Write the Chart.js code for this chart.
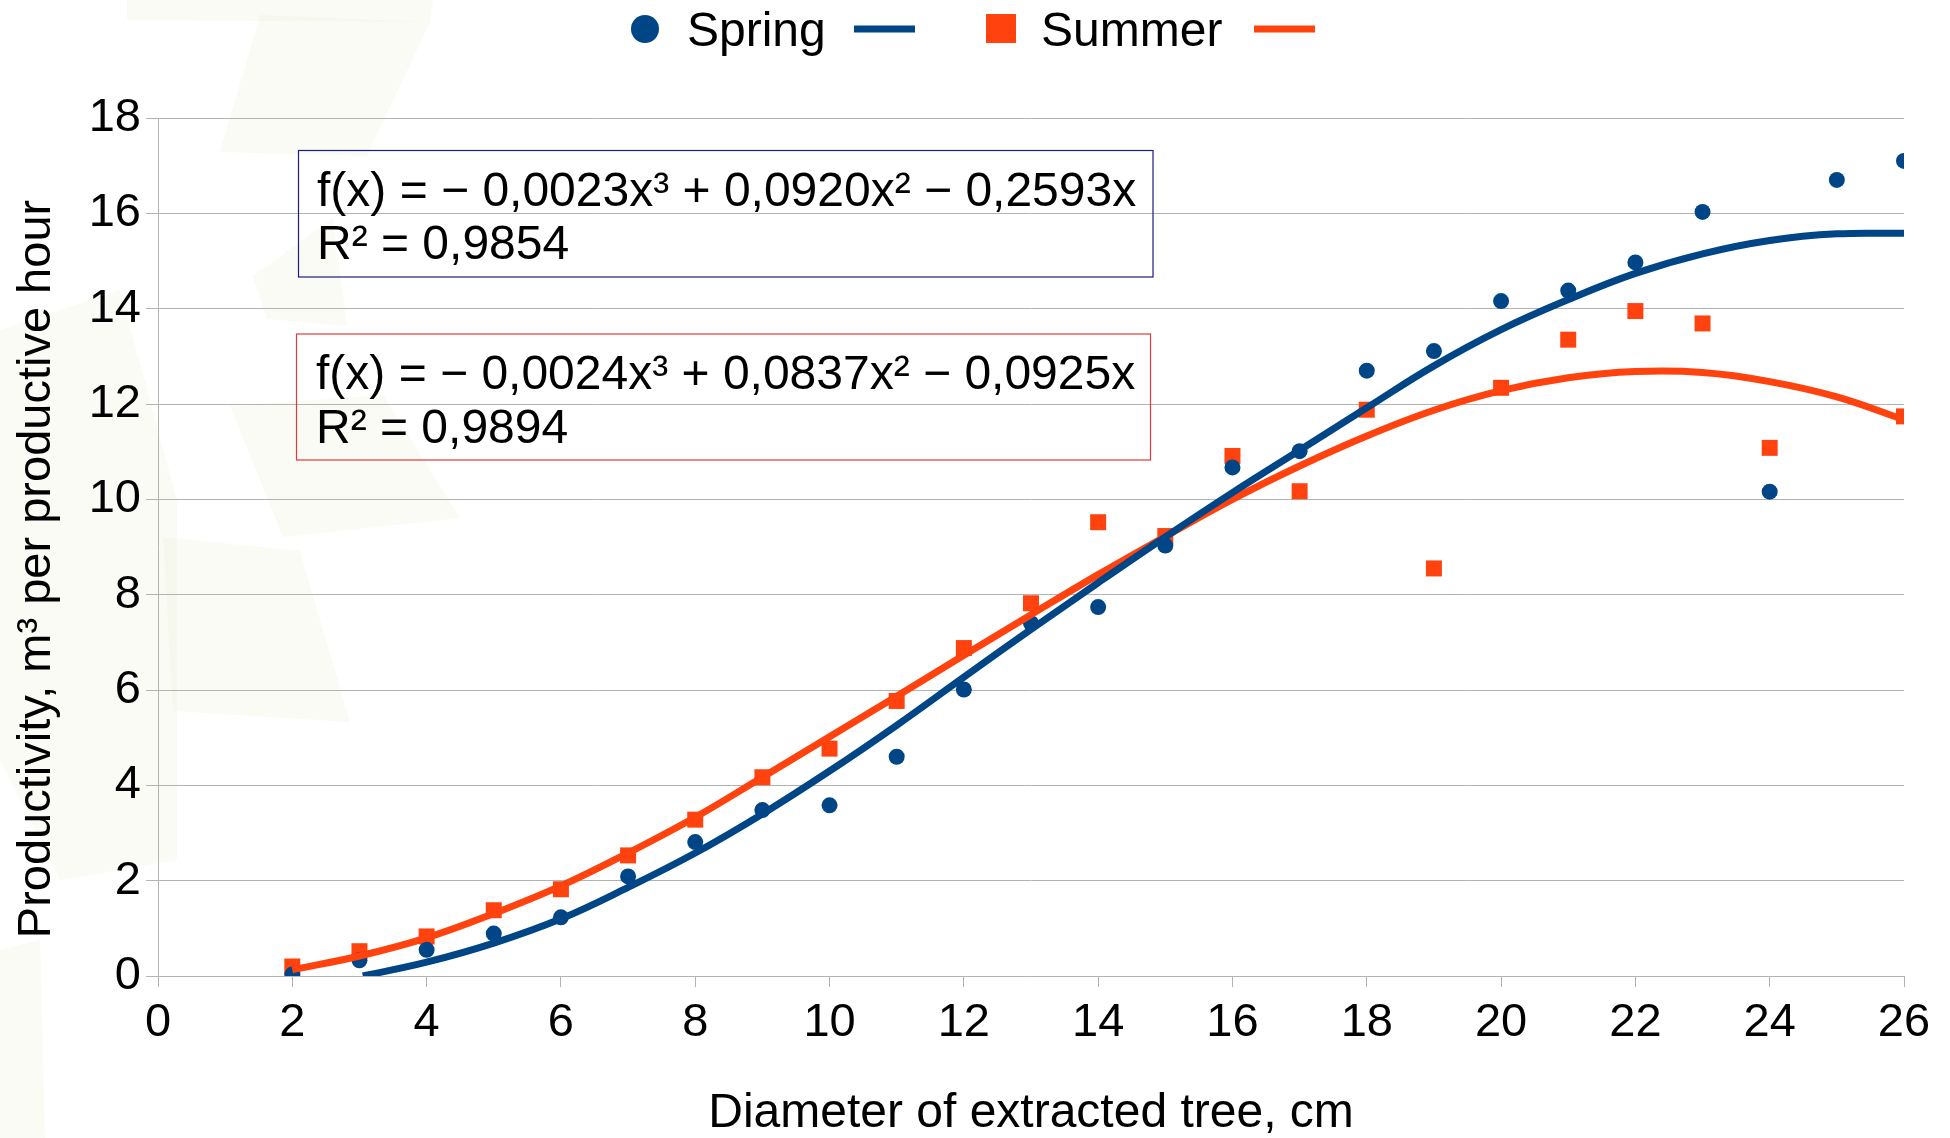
<!DOCTYPE html>
<html>
<head>
<meta charset="utf-8">
<title>Productivity vs diameter</title>
<script src="https://cdn.jsdelivr.net/npm/chart.js@4.4.1/dist/chart.umd.min.js"></script>
<style>
    html, body { margin: 0; padding: 0; background: #ffffff; }
    #wrap { position: relative; width: 1950px; height: 1138px; }
</style>
</head>
<body>
<div id="wrap">
    <canvas id="prodChart" width="1950" height="1138"></canvas>
</div>
<script>
// ============================================
// DATA
// ============================================
const diameters = [2, 3, 4, 5, 6, 7, 8, 9, 10, 11, 12, 13, 14, 15, 16, 17, 18, 19, 20, 21, 22, 23, 24, 25, 26];
const springValues = [0.03, 0.33, 0.55, 0.89, 1.23, 2.09, 2.81, 3.48, 3.58, 4.60, 6.01, 7.40, 7.74, 9.03,
                      10.67, 11.01, 12.70, 13.11, 14.16, 14.38, 14.97, 16.03, 10.16, 16.70, 17.10];
const summerValues = [0.20, 0.52, 0.83, 1.38, 1.82, 2.53, 3.28, 4.17, 4.77, 5.77, 6.88, 7.82, 9.52, 9.23,
                      10.91, 10.17, 11.88, 8.55, 12.34, 13.35, 13.95, 13.69, 11.08, null, 11.74];

// trend curves as traced on the picture
const springTrendX = [3.05, 4, 5, 6, 7, 8, 9, 10, 11, 12, 13, 14, 15, 16, 17, 18, 19, 20, 21, 22, 23, 24, 25, 26];
const springTrendY = [0, 0.29, 0.69, 1.20, 1.86, 2.58, 3.40, 4.30, 5.26, 6.27, 7.27, 8.25, 9.21, 10.14,
                      11.03, 11.92, 12.80, 13.56, 14.19, 14.74, 15.15, 15.43, 15.57, 15.58];
const summerTrendX = [2, 3, 4, 5, 6, 7, 8, 9, 10, 11, 12, 13, 14, 15, 16, 17, 18, 19, 20, 21, 22, 23, 24, 25, 26];
const summerTrendY = [0.13, 0.42, 0.80, 1.31, 1.89, 2.58, 3.33, 4.17, 5.02, 5.87, 6.73, 7.58, 8.42, 9.22,
                      10.00, 10.70, 11.33, 11.87, 12.28, 12.55, 12.68, 12.66, 12.47, 12.15, 11.67];

const xTicks = [0, 2, 4, 6, 8, 10, 12, 14, 16, 18, 20, 22, 24, 26];
const yTicks = [0, 2, 4, 6, 8, 10, 12, 14, 16, 18];

const seriesNames = ['Spring', 'Summer'];
const springEquation = ['f(x) = − 0,0023x³ + 0,0920x² − 0,2593x', 'R² = 0,9854'];
const summerEquation = ['f(x) = − 0,0024x³ + 0,0837x² − 0,0925x', 'R² = 0,9894'];
const xTitle = 'Diameter of extracted tree, cm';
const yTitle = 'Productivity, m³ per productive hour';

// ============================================
// STYLE
// ============================================
const BLUE = '#004586';
const ORANGE = '#ff420e';
const GRID = '#b3b3b3';
const FONT = '"Liberation Sans", Arial, sans-serif';

Chart.defaults.font.family = FONT;
Chart.defaults.color = '#000000';

function toPoints(xs, ys) {
    return xs.map((x, i) => ({ x: x, y: ys[i] }));
}

// ============================================
// OVERLAY - watermark, legend, y title, equation boxes
// ============================================
const overlayPlugin = {
    id: 'overlay',
    beforeDraw(chart) {
        const ctx = chart.ctx;
        // faint background logo shapes
        const shapes = [
            [[127, 0], [433, 0], [430, 22], [127, 20]],
            [[260, 15], [430, 22], [367, 156], [220, 152]],
            [[253, 276], [333, 218], [347, 326], [267, 319]],
            [[230, 406], [383, 395], [460, 518], [283, 537]],
            [[163, 537], [300, 551], [350, 722], [173, 711]],
            [[0, 330], [120, 290], [177, 500], [177, 860], [60, 880], [0, 760]],
            [[0, 950], [40, 940], [45, 1138], [0, 1138]]
        ];
        ctx.save();
        ctx.fillStyle = 'rgba(225, 228, 190, 0.16)';
        shapes.forEach(poly => {
            ctx.beginPath();
            poly.forEach((p, i) => i === 0 ? ctx.moveTo(p[0], p[1]) : ctx.lineTo(p[0], p[1]));
            ctx.closePath();
            ctx.fill();
        });
        ctx.restore();
    },
    afterDraw(chart) {
        const ctx = chart.ctx;
        ctx.save();
        ctx.font = '48px ' + FONT;
        ctx.fillStyle = '#000000';
        ctx.textBaseline = 'alphabetic';
        ctx.textAlign = 'left';

        // legend
        ctx.fillStyle = BLUE;
        ctx.beginPath();
        ctx.arc(645, 29, 14, 0, Math.PI * 2);
        ctx.fill();
        ctx.fillStyle = '#000000';
        ctx.fillText(seriesNames[0], 687, 46);
        ctx.strokeStyle = BLUE;
        ctx.lineWidth = 7;
        ctx.beginPath();
        ctx.moveTo(854, 29);
        ctx.lineTo(915, 29);
        ctx.stroke();

        ctx.fillStyle = ORANGE;
        ctx.fillRect(986, 14, 30, 29);
        ctx.fillStyle = '#000000';
        ctx.fillText(seriesNames[1], 1041, 46);
        ctx.strokeStyle = ORANGE;
        ctx.beginPath();
        ctx.moveTo(1254, 29);
        ctx.lineTo(1315, 29);
        ctx.stroke();

        // y axis title
        ctx.save();
        ctx.translate(50, 569);
        ctx.rotate(-Math.PI / 2);
        ctx.textAlign = 'center';
        ctx.font = '47px ' + FONT;
        ctx.fillText(yTitle, 0, 0);
        ctx.restore();

        // equation boxes
        ctx.lineWidth = 1.2;
        ctx.strokeStyle = '#1c1c84';
        ctx.strokeRect(298.5, 150.5, 854.5, 126.5);
        ctx.fillText(springEquation[0], 317, 206);
        ctx.fillText(springEquation[1], 317, 259);

        ctx.strokeStyle = '#e03a3a';
        ctx.strokeRect(296.5, 334, 854, 126);
        ctx.fillText(summerEquation[0], 316, 389);
        ctx.fillText(summerEquation[1], 316, 443);
        ctx.restore();
    }
};

// ============================================
// CHART
// ============================================
const ctx = document.getElementById('prodChart').getContext('2d');
const prodChart = new Chart(ctx, {
    type: 'scatter',
    data: {
        datasets: [
            {
                label: seriesNames[0] + ' trend',
                type: 'line',
                data: toPoints(springTrendX, springTrendY),
                borderColor: BLUE,
                borderWidth: 7,
                pointRadius: 0,
                fill: false,
                tension: 0.4,
                order: 1
            },
            {
                label: seriesNames[1] + ' trend',
                type: 'line',
                data: toPoints(summerTrendX, summerTrendY),
                borderColor: ORANGE,
                borderWidth: 7,
                pointRadius: 0,
                fill: false,
                tension: 0.4,
                order: 2
            },
            {
                label: seriesNames[0],
                data: toPoints(diameters, springValues),
                backgroundColor: BLUE,
                borderWidth: 0,
                pointStyle: 'circle',
                pointRadius: 8,
                order: 3
            },
            {
                label: seriesNames[1],
                data: toPoints(diameters, summerValues).filter(p => p.y !== null),
                backgroundColor: ORANGE,
                borderWidth: 0,
                pointStyle: 'rect',
                pointRadius: 11.3,
                order: 4
            }
        ]
    },
    options: {
        responsive: false,
        devicePixelRatio: 1,
        animation: false,
        layout: { padding: { top: 118, right: 46, left: 0, bottom: 0 } },
        plugins: {
            legend: { display: false },
            tooltip: { enabled: false }
        },
        scales: {
            x: {
                type: 'linear',
                min: 0,
                max: 26,
                afterBuildTicks: scale => { scale.ticks = xTicks.map(v => ({ value: v })); },
                afterFit: scale => { scale.height = 162; },
                grid: { drawOnChartArea: false, drawTicks: true, tickLength: 11, color: GRID },
                border: { display: true, color: GRID, width: 1 },
                ticks: { font: { size: 47 }, color: '#000000', padding: 8, maxRotation: 0 },
                title: {
                    display: true,
                    text: xTitle,
                    font: { size: 48, lineHeight: 1 },
                    color: '#000000',
                    padding: { top: 0, bottom: 0 }
                }
            },
            y: {
                min: 0,
                max: 18,
                afterBuildTicks: scale => { scale.ticks = yTicks.map(v => ({ value: v })); },
                afterFit: scale => { scale.width = 158; },
                grid: { drawTicks: true, tickLength: 12, color: GRID },
                border: { display: true, color: GRID, width: 1 },
                ticks: { font: { size: 47 }, color: '#000000', padding: 5 }
            }
        }
    },
    plugins: [overlayPlugin]
});
</script>
</body>
</html>
